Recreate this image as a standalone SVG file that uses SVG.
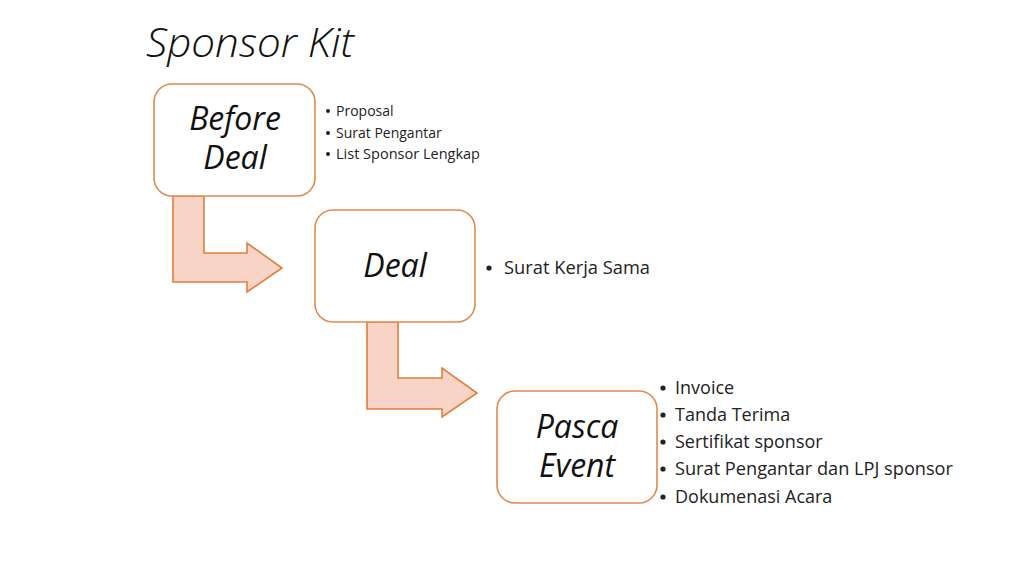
<svg xmlns="http://www.w3.org/2000/svg" width="1024" height="576" viewBox="0 0 1024 576">
<style>
.box{fill:#ffffff;stroke:#E08A50;stroke-width:1.6}
.arr{fill:#F7D4C6;stroke:#E07E3C;stroke-width:1.6;stroke-linejoin:miter}
.lbl{font-family:"Open Sans","Noto Sans",sans-serif;font-style:italic;font-size:32px;fill:#111;text-anchor:middle}
.sm{font-family:"Open Sans","Noto Sans",sans-serif;font-size:14px;fill:#222}
.md{font-family:"Open Sans","Noto Sans",sans-serif;font-size:18px;fill:#222}
.b{fill:#222}
</style>
<rect width="1024" height="576" fill="#ffffff"/>
<text x="146" y="57" font-family="'Open Sans','Noto Sans',sans-serif" font-style="italic" font-weight="300" font-size="41" fill="#111" textLength="208" lengthAdjust="spacingAndGlyphs">Sponsor Kit</text>
<g id="connectors">
<path class="arr" d="M173,196 L204,196 L204,253 L247,253 L247,243 L282,268 L247,292 L247,282 L173,282 Z"/>
<path class="arr" d="M367,322 L398,322 L398,378 L442,378 L442,368 L477,393 L442,417 L442,409 L367,409 Z"/>
</g>
<g id="before-deal">
<rect class="box" x="154" y="84" width="161" height="112" rx="18"/>
<text class="lbl" x="235" y="130">Before</text>
<text class="lbl" x="235" y="169">Deal</text>
<circle class="b" cx="328" cy="111" r="2"/>
<text class="sm" x="336" y="116">Proposal</text>
<circle class="b" cx="328" cy="133" r="2"/>
<text class="sm" x="336" y="138">Surat Pengantar</text>
<circle class="b" cx="328" cy="154" r="2"/>
<text class="sm" x="336" y="159" textLength="144" lengthAdjust="spacingAndGlyphs">List Sponsor Lengkap</text>
</g>
<g id="deal">
<rect class="box" x="315" y="210" width="160" height="112" rx="18"/>
<text class="lbl" x="395" y="277">Deal</text>
<circle class="b" cx="489" cy="268" r="2.6"/>
<text class="md" x="504" y="274" textLength="146" lengthAdjust="spacingAndGlyphs">Surat Kerja Sama</text>
</g>
<g id="pasca-event">
<rect class="box" x="497" y="391" width="160" height="112" rx="18"/>
<text class="lbl" x="577" y="438">Pasca</text>
<text class="lbl" x="577" y="477">Event</text>
<circle class="b" cx="663" cy="388" r="2.6"/>
<text class="md" x="675" y="394">Invoice</text>
<circle class="b" cx="663" cy="415" r="2.6"/>
<text class="md" x="675" y="421">Tanda Terima</text>
<circle class="b" cx="663" cy="442" r="2.6"/>
<text class="md" x="675" y="448">Sertifikat sponsor</text>
<circle class="b" cx="663" cy="469" r="2.6"/>
<text class="md" x="675" y="475" textLength="278" lengthAdjust="spacingAndGlyphs">Surat Pengantar dan LPJ sponsor</text>
<circle class="b" cx="663" cy="497" r="2.6"/>
<text class="md" x="675" y="503">Dokumenasi Acara</text>
</g>
</svg>
